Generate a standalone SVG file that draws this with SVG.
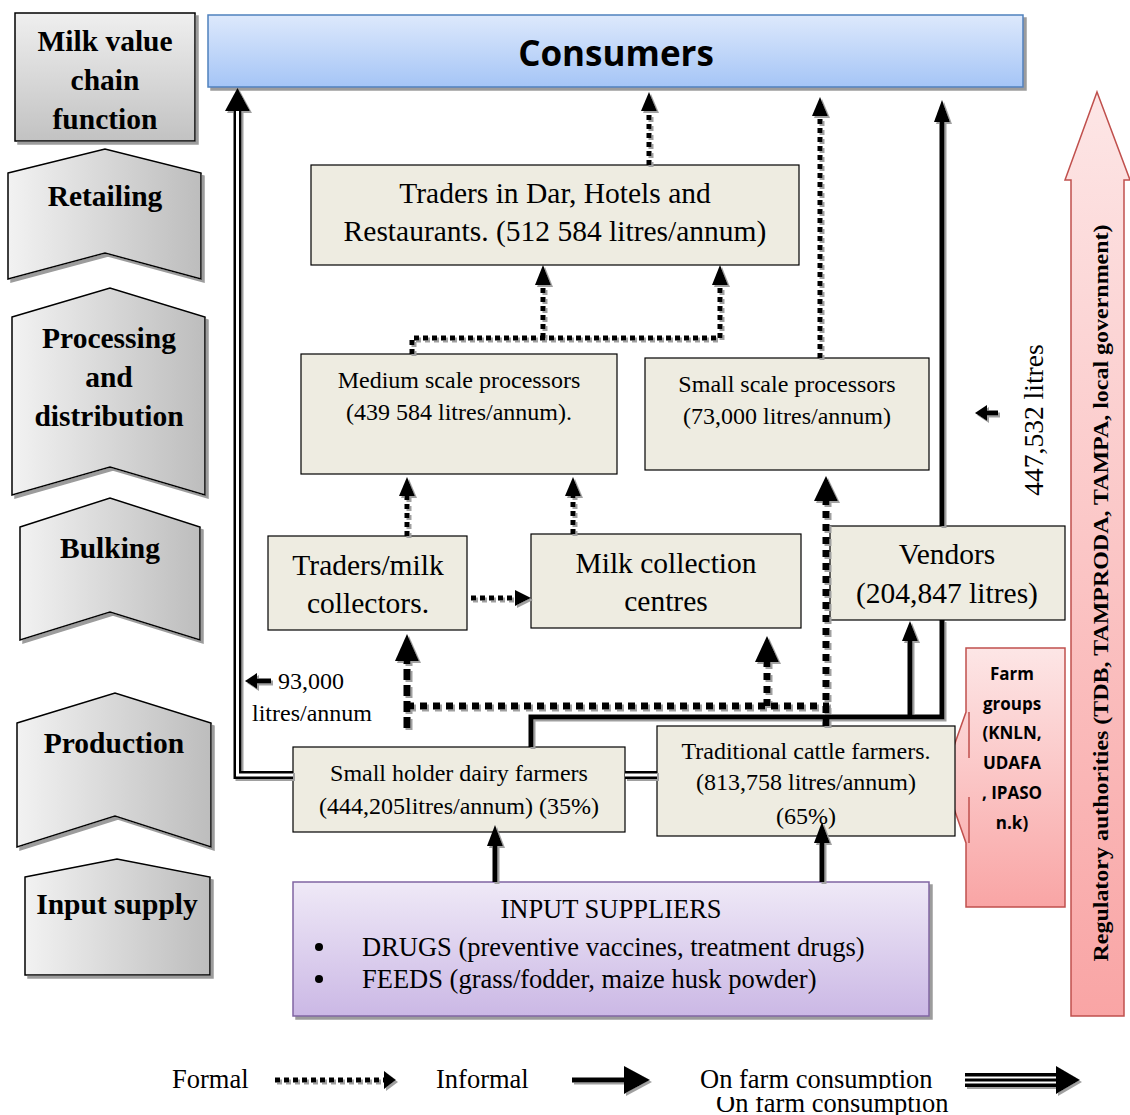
<svg xmlns="http://www.w3.org/2000/svg" width="1130" height="1115" viewBox="0 0 1130 1115">
<defs>
  <linearGradient id="gGrayV" x1="0" y1="0" x2="0" y2="1"><stop offset="0" stop-color="#efefef"/><stop offset="1" stop-color="#c2c2c2"/></linearGradient>
  <linearGradient id="gGrayH" x1="0" y1="0" x2="1" y2="0"><stop offset="0" stop-color="#f2f2f2"/><stop offset="1" stop-color="#bdbdbd"/></linearGradient>
  <linearGradient id="gBlue" x1="0" y1="0" x2="0" y2="1"><stop offset="0" stop-color="#dde9fc"/><stop offset="1" stop-color="#a5c5f6"/></linearGradient>
  <linearGradient id="gPurple" x1="0" y1="0" x2="0" y2="1"><stop offset="0" stop-color="#efe9f7"/><stop offset="1" stop-color="#cbb8e5"/></linearGradient>
  <linearGradient id="gPink" x1="0" y1="0" x2="0" y2="1"><stop offset="0" stop-color="#fde6e6"/><stop offset="1" stop-color="#f9a5a5"/></linearGradient>
  <filter id="bs" filterUnits="userSpaceOnUse" x="0" y="0" width="1130" height="1115">
    <feOffset in="SourceAlpha" dx="3" dy="3" result="o"/>
    <feFlood flood-color="#9c9c9c"/>
    <feComposite in2="o" operator="in" result="s"/>
    <feMerge><feMergeNode in="s"/><feMergeNode in="SourceGraphic"/></feMerge>
  </filter>
  <filter id="cs" filterUnits="userSpaceOnUse" x="0" y="0" width="1130" height="1115">
    <feOffset in="SourceAlpha" dx="2" dy="2" result="o"/>
    <feFlood flood-color="#a0a0a0"/>
    <feComposite in2="o" operator="in" result="s"/>
    <feMerge><feMergeNode in="s"/><feMergeNode in="SourceGraphic"/></feMerge>
  </filter>
  <clipPath id="clipTop"><rect x="690" y="1060" width="260" height="29"/></clipPath>
  <clipPath id="clipBot"><rect x="700" y="1097" width="260" height="18"/></clipPath>
</defs>
<style>
  .lbl{font-family:"Liberation Serif","Times New Roman",serif;font-weight:bold;font-size:29.5px;fill:#000;text-anchor:middle}
  .chev{fill:url(#gGrayH);stroke:#000;stroke-width:1.5;filter:url(#bs)}
  .box{fill:#eeece1;stroke:#000;stroke-width:1.2}
  .t28{font-family:"Liberation Serif","Times New Roman",serif;font-size:29.5px;fill:#000;text-anchor:middle}
  .t23{font-family:"Liberation Serif","Times New Roman",serif;font-size:24px;fill:#000;text-anchor:middle}
  .t24{font-family:"Liberation Serif","Times New Roman",serif;font-size:24px;fill:#000}
  .vol{font-family:"Liberation Serif","Times New Roman",serif;font-size:27.5px;fill:#000;text-anchor:middle}
  .leg{font-family:"Liberation Serif","Times New Roman",serif;font-size:26.5px;fill:#000}
  .isp{font-family:"Liberation Serif","Times New Roman",serif;font-size:26.5px;fill:#000}
  .fg{font-family:"Open Sans","Liberation Sans",sans-serif;font-weight:bold;font-size:17px;fill:#000;text-anchor:middle}
  .dot{fill:none;stroke:#000;stroke-width:5;stroke-dasharray:5 4}
  .dotb{fill:none;stroke:#000;stroke-width:7;stroke-dasharray:7 6}
  .dash{fill:none;stroke:#000;stroke-width:7;stroke-dasharray:11 5}
  .sol{fill:none;stroke:#000;stroke-width:5}
  .dblo{fill:none;stroke:#000;stroke-width:8}
  .dbli{fill:none;stroke:#fff;stroke-width:3}
  .ah{fill:#000}
</style>
<rect width="1130" height="1115" fill="#fff"/>

<!-- Left column: value chain functions -->
<g id="fn-title">
  <rect x="15" y="13" width="180" height="128" fill="url(#gGrayV)" stroke="#000" stroke-width="1.5" filter="url(#bs)"/>
  <text class="lbl" x="105" y="51">Milk value</text>
  <text class="lbl" x="105" y="90">chain</text>
  <text class="lbl" x="105" y="129">function</text>
</g>
<g id="fn-retailing">
  <path class="chev" d="M8,173 L105,149 L201,173 V279 L105,253 L8,279 Z"/>
  <text class="lbl" x="105" y="206">Retailing</text>
</g>
<g id="fn-processing">
  <path class="chev" d="M12,317 L110,288 L205,317 V495 L110,467 L12,495 Z"/>
  <text class="lbl" x="109" y="348">Processing</text>
  <text class="lbl" x="109" y="387">and</text>
  <text class="lbl" x="109" y="426">distribution</text>
</g>
<g id="fn-bulking">
  <path class="chev" d="M20,527 L110,498 L200,527 V640 L110,612 L20,640 Z"/>
  <text class="lbl" x="110" y="558">Bulking</text>
</g>
<g id="fn-production">
  <path class="chev" d="M17,723 L115,693 L211,723 V847 L115,816 L17,847 Z"/>
  <text class="lbl" x="114" y="753">Production</text>
</g>
<g id="fn-input">
  <path class="chev" d="M25,877 L117,859 L210,877 V975 H25 Z"/>
  <text class="lbl" x="117" y="914">Input supply</text>
</g>

<!-- Consumers -->
<g id="consumers">
  <rect x="208" y="15" width="815" height="72" fill="url(#gBlue)" stroke="#4f81bd" stroke-width="1.5" filter="url(#bs)"/>
  <text x="616" y="66" font-family="'Open Sans','Liberation Sans',sans-serif" font-weight="bold" font-size="35" text-anchor="middle" fill="#000">Consumers</text>
</g>

<!-- Regulatory authorities -->
<g id="regulatory">
  <path d="M1097,92 L1130,180 H1124 V1016 H1071 V180 H1065 Z" fill="url(#gPink)" stroke="#c0504d" stroke-width="1.5"/>
  <text transform="translate(1108,593) rotate(-90)" x="0" y="0" font-family="'Liberation Serif','Times New Roman',serif" font-weight="bold" font-size="22" text-anchor="middle" textLength="737" lengthAdjust="spacingAndGlyphs" fill="#000">Regulatory authorities (TDB, TAMPRODA, TAMPA, local government)</text>
</g>

<!-- Farm groups -->
<g id="farm-groups">
  <path d="M966,648 H1065 V907 H966 V843 L943,777 L966,712 Z" fill="url(#gPink)" stroke="#c0504d" stroke-width="1.5"/>
  <path d="M969,712 V758 M969,797 V843" fill="none" stroke="#c0504d" stroke-width="1.5"/>
  <text class="fg" x="1012" y="680">Farm</text>
  <text class="fg" x="1012" y="710">groups</text>
  <text class="fg" x="1012" y="739">(KNLN,</text>
  <text class="fg" x="1012" y="769">UDAFA</text>
  <text class="fg" x="1012" y="799">, IPASO</text>
  <text class="fg" x="1012" y="829">n.k)</text>
</g>

<!-- Nodes -->
<g id="traders-dar">
  <rect class="box" x="311" y="165" width="488" height="100"/>
  <text class="t28" x="555" y="203">Traders in Dar, Hotels and</text>
  <text class="t28" x="555" y="241">Restaurants. (512 584 litres/annum)</text>
</g>
<g id="medium-processors">
  <rect class="box" x="301" y="354" width="316" height="120"/>
  <text class="t23" x="459" y="388">Medium scale processors</text>
  <text class="t23" x="459" y="420">(439 584 litres/annum).</text>
</g>
<g id="small-processors">
  <rect class="box" x="645" y="358" width="284" height="112"/>
  <text class="t23" x="787" y="392">Small scale processors</text>
  <text class="t23" x="787" y="424">(73,000 litres/annum)</text>
</g>
<g id="traders-collectors">
  <rect class="box" x="268" y="536" width="199" height="94"/>
  <text class="t28" x="368" y="575">Traders/milk</text>
  <text class="t28" x="368" y="613">collectors.</text>
</g>
<g id="collection-centres">
  <rect class="box" x="531" y="534" width="270" height="94"/>
  <text class="t28" x="666" y="573">Milk collection</text>
  <text class="t28" x="666" y="611">centres</text>
</g>
<g id="vendors">
  <rect class="box" x="830" y="526" width="235" height="94"/>
  <text class="t28" x="947" y="564">Vendors</text>
  <text class="t28" x="947" y="603">(204,847 litres)</text>
</g>
<g id="smallholder">
  <rect class="box" x="293" y="747" width="332" height="85"/>
  <text class="t23" x="459" y="781">Small holder dairy farmers</text>
  <text class="t23" x="459" y="814">(444,205litres/annum) (35%)</text>
</g>
<g id="traditional">
  <rect class="box" x="657" y="726" width="298" height="110"/>
  <text class="t23" x="806" y="759">Traditional cattle farmers.</text>
  <text class="t23" x="806" y="790">(813,758 litres/annum)</text>
  <text class="t23" x="806" y="824">(65%)</text>
</g>
<g id="input-suppliers">
  <rect x="293" y="882" width="636" height="134" fill="url(#gPurple)" stroke="#8064a2" stroke-width="1.5" filter="url(#bs)"/>
  <text class="isp" x="611" y="918" text-anchor="middle">INPUT SUPPLIERS</text>
  <circle cx="319" cy="947" r="4" fill="#000"/>
  <circle cx="319" cy="979" r="4" fill="#000"/>
  <text class="isp" x="362" y="956">DRUGS (preventive vaccines, treatment drugs)</text>
  <text class="isp" x="362" y="988">FEEDS (grass/fodder, maize husk powder)</text>
</g>

<!-- Free labels -->
<g id="labels">
  <text class="t24" x="278" y="689">93,000</text>
  <text class="t24" x="252" y="721">litres/annum</text>
  <text class="vol" transform="translate(1043,420) rotate(-90)" x="0" y="0">447,532 litres</text>
</g>

<!-- Connectors -->
<g id="connectors" filter="url(#cs)">
  <!-- on-farm consumption (double line) -->
  <path class="dblo" d="M293,775 H237.5 V108"/>
  <path class="dbli" d="M293,775 H237.5 V108"/>
  <path class="dblo" d="M625,775 H657"/>
  <path class="dbli" d="M625,775 H657"/>
  <polygon class="ah" points="237.5,88 225,111 250,111"/>

  <!-- formal (dotted) -->
  <path class="dot" d="M649,165 V110"/>
  <polygon class="ah" points="649,92 641,111 657,111"/>
  <path class="dot" d="M820,358 V115"/>
  <polygon class="ah" points="820,97 812,116 828,116"/>
  <path class="dot" d="M412,354 V338 H720 V284"/>
  <path class="dot" d="M543,338 V284"/>
  <polygon class="ah" points="543,265 535,285 551,285"/>
  <polygon class="ah" points="720,265 712,285 728,285"/>
  <path class="dot" d="M407,536 V495"/>
  <polygon class="ah" points="407,477 399,496 415,496"/>
  <path class="dot" d="M573,534 V495"/>
  <polygon class="ah" points="573,477 565,496 581,496"/>
  <path class="dot" d="M471,598 H516"/>
  <polygon class="ah" points="531,598 515,590 515,606"/>
  <path class="dash" d="M407,728 V660"/>
  <polygon class="ah" points="407,634 395,661 419,661"/>
  <path class="dotb" d="M407,706 H829"/>
  <path class="dotb" d="M767,706 V662"/>
  <polygon class="ah" points="767,636 755,662 779,662"/>
  <path class="dotb" d="M826,726 V500"/>
  <polygon class="ah" points="826,476 814,501 838,501"/>

  <!-- informal (solid) -->
  <path class="sol" d="M531,747 V717 H942 V620"/>
  <path class="sol" d="M942,526 V121"/>
  <polygon class="ah" points="942,100 934,122 950,122"/>
  <path class="sol" d="M910,717 V640"/>
  <polygon class="ah" points="910,621 902,641 918,641"/>
  <path class="sol" d="M495,882 V845"/>
  <polygon class="ah" points="495,825 487,846 503,846"/>
  <path class="sol" d="M822,882 V842"/>
  <polygon class="ah" points="822,822 814,843 830,843"/>

  <!-- volume pointers -->
  <path class="sol" d="M271,681 H255"/>
  <polygon class="ah" points="245,681 257,673 257,689"/>
  <path class="sol" d="M998,413 H985"/>
  <polygon class="ah" points="975,413 987,405 987,421"/>
</g>

<!-- Legend -->
<g id="legend">
  <text class="leg" x="172" y="1088">Formal</text>
  <g filter="url(#cs)">
    <path class="dot" d="M275,1080 H384" stroke-width="7" stroke-dasharray="5 3"/>
    <polygon class="ah" points="396,1080 384,1071 384,1089"/>
    <path class="sol" d="M572,1080 H625" stroke-width="11"/>
    <polygon class="ah" points="650,1080 624,1066 624,1094"/>
    <path d="M965,1080 H1058" stroke="#000" stroke-width="14" fill="none"/>
    <path d="M965,1077.5 H1058 M965,1082.5 H1058" stroke="#fff" stroke-width="2" fill="none"/>
    <polygon class="ah" points="1080,1080 1056,1066 1056,1094"/>
  </g>
  <text class="leg" x="436" y="1088">Informal</text>
  <text class="leg" x="700" y="1088" clip-path="url(#clipTop)">On farm consumption</text>
  <text class="leg" x="716" y="1112" clip-path="url(#clipBot)">On farm consumption</text>
</g>
</svg>
